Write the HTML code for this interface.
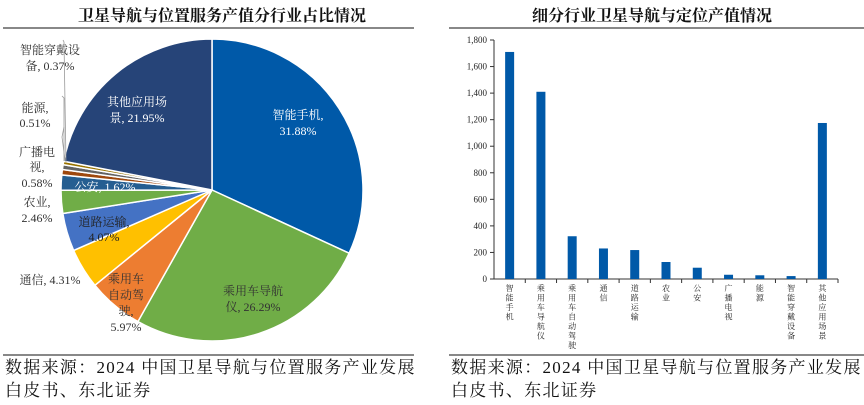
<!DOCTYPE html>
<html><head><meta charset="utf-8"><style>
body{margin:0;width:864px;height:405px;background:#fff;overflow:hidden;font-family:"Liberation Serif","Noto Serif CJK SC",serif}
</style></head><body>
<svg width="864" height="405" style="position:absolute;left:0;top:0">
<text x="222" y="21" text-anchor="middle" font-size="16" font-weight="bold" fill="#111">卫星导航与位置服务产值分行业占比情况</text>
<text x="652" y="21" text-anchor="middle" font-size="16" font-weight="bold" fill="#111">细分行业卫星导航与定位产值情况</text>
<line x1="3" y1="28" x2="414" y2="28" stroke="#888" stroke-width="2"/>
<line x1="449" y1="28" x2="864" y2="28" stroke="#888" stroke-width="2"/>
<line x1="3" y1="355" x2="414" y2="355" stroke="#888" stroke-width="2"/>
<line x1="449" y1="355" x2="864" y2="355" stroke="#888" stroke-width="2"/>
<g id="pie"></g>
<g id="bar"></g>
<g font-size="17" fill="#111" letter-spacing="1.3">
<text x="5" y="373">数据来源：2024 中国卫星导航与位置服务产业发展</text>
<text x="5" y="396">白皮书、东北证券</text>
<text x="451" y="373">数据来源：2024 中国卫星导航与位置服务产业发展</text>
<text x="451" y="396">白皮书、东北证券</text>
</g>
</svg>
<script>
const pieLabels=["智能手机","乘用车导航仪","乘用车自动驾驶","通信","道路运输","农业","公安","广播电视","能源","智能穿戴设备","其他应用场景"];
const pieValues=[31.88,26.29,5.97,4.31,4.07,2.46,1.62,0.58,0.51,0.37,21.95];
const pieColors=["#0059a8","#70ad47","#ed7d31","#ffc000","#4472c4","#70ad47","#255e91","#9e480e","#636363","#997300","#264478"];
const barCats=["智能手机","乘用车导航仪","乘用车自动驾驶","通信","道路运输","农业","公安","广播电视","能源","智能穿戴设备","其他应用场景"];
const barValues=[1710,1410,322,230,218,128,85,32,28,22,1175];
const yTicks=[0,200,400,600,800,1000,1200,1400,1600,1800];
const NS="http://www.w3.org/2000/svg";
function mk(tag,attrs,parent){const e=document.createElementNS(NS,tag);for(const k in attrs)e.setAttribute(k,attrs[k]);parent.appendChild(e);return e;}
const pie=document.getElementById('pie');
const cx=212,cy=190,r=151;
const total=pieValues.reduce((a,b)=>a+b,0);
let acc=0;
pieValues.forEach((v,i)=>{
  const a0=acc/total*2*Math.PI;acc+=v;const a1=acc/total*2*Math.PI;
  const x0=cx+r*Math.sin(a0),y0=cy-r*Math.cos(a0),x1=cx+r*Math.sin(a1),y1=cy-r*Math.cos(a1);
  const large=(a1-a0)>Math.PI?1:0;
  const p=mk('path',{d:`M${cx},${cy}L${x0},${y0}A${r},${r} 0 ${large} 1 ${x1},${y1}Z`,fill:pieColors[i],stroke:'#fff','stroke-width':1.5},pie);
  
  
});
const labs=[
 [298,119,"智能手机,","#fff"],[298,135,"31.88%","#fff"],
 [253,295,"乘用车导航","#333"],[253,311,"仪, 26.29%","#333"],
 [126,283,"乘用车","#333"],[126,299,"自动驾","#333"],[126,315,"驶,","#333"],[126,331,"5.97%","#333"],
 [50,284,"通信, 4.31%","#333"],
 [104,226,"道路运输,","#222"],[104,241,"4.07%","#222"],
 [37,206,"农业,","#333"],[37,222,"2.46%","#333"],
 [105,191,"公安, 1.62%","#fff"],
 [37,156,"广播电","#333"],[37,171,"视,","#333"],[37,187,"0.58%","#333"],
 [35,112,"能源,","#333"],[35,127,"0.51%","#333"],
 [50,54,"智能穿戴设","#333"],[50,70,"备, 0.37%","#333"],
 [137,106,"其他应用场","#fff"],[137,122,"景, 21.95%","#fff"]
];
labs.forEach((l,i)=>{const t=mk('text',{x:l[0],y:l[1],'text-anchor':'middle','font-size':12,fill:l[3]},pie);t.textContent=l[2];

});
[[64,127,62,137,65,160],[62,96,64,98,64,161],[63,40,64,42,66,162]].forEach(p=>{const l=mk('polyline',{points:`${p[0]},${p[1]} ${p[2]},${p[3]} ${p[4]},${p[5]}`,fill:'none',stroke:'#999','stroke-width':0.8},pie);

});
const bar=document.getElementById('bar');
const x0=494,x1=838,yTop=40,yBot=279,yMax=1800;
const ys=v=>yBot-(v/yMax)*(yBot-yTop);
const bw=(x1-x0)/barCats.length;
const ax=mk('line',{x1:x0,y1:yTop,x2:x0,y2:yBot,stroke:'#333','stroke-width':1},bar);

const xa=mk('line',{x1:x0,y1:yBot,x2:x1,y2:yBot,stroke:'#333','stroke-width':1},bar);

yTicks.forEach(v=>{const y=ys(v);
 const tk=mk('line',{x1:x0-4,y1:y,x2:x0,y2:y,stroke:'#333'},bar);
 
 const t=mk('text',{x:x0-7,y:y+3,'text-anchor':'end','font-size':9,fill:'#222'},bar);t.textContent=v.toLocaleString('en-US');
 });
barCats.forEach((c,i)=>{
 const cxp=x0+bw*(i+0.5);
 const tk=mk('line',{x1:x0+bw*(i+1),y1:yBot,x2:x0+bw*(i+1),y2:yBot+4,stroke:'#333'},bar);
 
 const b=mk('rect',{x:cxp-4.5,y:ys(barValues[i]),width:9,height:yBot-ys(barValues[i]),fill:'#0059a8'},bar);
 
 const t=mk('text',{x:cxp,y:yBot+12,'text-anchor':'middle','font-size':8,fill:'#222'},bar);
 
 c.split('').forEach((ch,k)=>{const s=mk('tspan',{x:cxp,y:yBot+12+k*9.5},t);s.textContent=ch;});
});
</script>
</body></html>
